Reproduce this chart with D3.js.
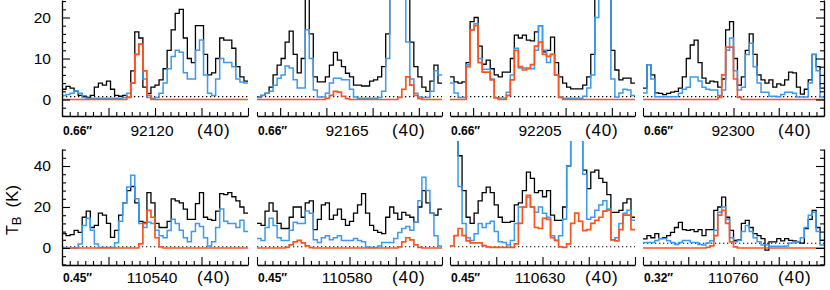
<!DOCTYPE html>
<html>
<head>
<meta charset="utf-8">
<script src="https://cdn.jsdelivr.net/npm/d3@7"></script>
<style>
  body { margin: 0; background: #fff; }
  svg { display: block; }
  text { font-family: "Liberation Sans", Arial, sans-serif; }
</style>
</head>
<body>
<div id="chart"></div>
<script>
// line labels (rest frequency, MHz), beam sizes and the velocity label
const lineLabels = ["92120", "92165", "92205", "92300", "110540", "110580", "110630", "110760"];
const beamLabels = ["0.66″", "0.66″", "0.66″", "0.66″", "0.45″", "0.45″", "0.45″", "0.32″"];
const velLabel = "(40)";
const noiseLevels = [0.7, 0.7, 0.7, 0.7, 0.6, 0.6, 0.6, 2.3];
const yTicksTop = [0, 10, 20];
const yTicksBottom = [0, 20, 40];

// spectra, one value per channel: obs = observed (black), all = full model (blue), mol = this species (orange)
const obs92120 = [2.5,3.2,2.8,2,1,0.8,0.5,1,3,4, 3.5,4.5,2.5,1,0.8,1,0.5,7,16.5,15, 3,1.5,3,3.5,4.8,7.5,12,17,21,22, 15,10,9,18,18,11,6,6.5,10,15, 14.5,14.5,12.5,8,5.5,4.5];
const all92120 = [1,1.2,1.5,2.1,1.5,0.5,0.3,0.3,0.3,0.3, 0.3,0.3,0.3,0.3,0.3,0.5,1.5,4,11,13.5, 5,0.5,0.3,0.5,1.5,4,7.5,10.5,12,11.5, 6.5,5,5,12,14.5,6,1.5,1,5,10, 9,9,8,5,4.3,4];
const mol92120 = [0,0,0,0,0,0,0,0,0,0, 0,0,0,0,0,0,0.5,4,11,13.5, 7,1,0,0,0,0,0,0,0,0, 0,0,0,0,0,0,0,0,0,0, 0,0,0,0,0,0];

const obs92165 = [0.6,1,1.5,3,6,8.4,10,14,16.7,11, 6.5,10,26,16,5.5,4.3,4.3,5.5,8.4,11.5, 9.6,8,6.4,5.5,3.5,3.5,3.3,3.3,4.5,4.8, 5.5,8,16,30,40,40,35,25,14,8, 5.5,3,2,4.5,8.4,4];
const all92165 = [0.5,1,1.5,2,3.5,5.2,6,8.2,7.7,4.8, 2.8,2.8,17,10,2.3,0.6,0.6,1.5,4,5.2, 5.2,4.8,4.8,2.5,0.6,0.3,0.3,0.3,0.3,0.3, 0.5,2,10,30,40,40,30,14,5,1.5, 0.6,0.5,0.5,2,7,6];
const mol92165 = [0,0,0,0,0,0,0,0,0,0, 0,0,0,0,0,0,0,0.3,1,2, 1.8,0.8,0.2,0,0,0,0,0,0,0, 0,0,0,0,0,0.5,2.5,5.5,3.5,1, 0.2,0,0,0,0,0];

const obs92205 = [5.5,4.3,4,4.3,9,19,20,13,8.6,9.6, 7.5,6,5.5,6.7,6.7,10,15.7,15,15.7,14.5, 14.3,16.5,18,11.6,12,15.2,9,5.5,4,3, 2.6,2.6,2.6,3.5,5.5,11,28,40,40,35, 12,7.2,4.8,5.2,5.2,4];
const all92205 = [4,1.6,0.5,0.5,8.5,17,18.5,10,7.4,7.4, 5,0.5,0.4,0.4,1.8,6,12.5,7.7,7.7,7.7, 7.5,12,18,12,9,11,6,0.6,0.3,0.3, 0.3,0.3,0.3,0.8,2.8,6,20,40,40,30, 5,0.6,1.6,2.5,2.3,1];
const mol92205 = [0,0,0,0,8,17,18,9,6.7,6.7, 4.8,0.4,0,0,1,4.8,12,8,7.2,7.5, 8.5,13,14,11,10.5,11,6,0.5,0,0, 0,0,0,0,0,0,0,0,0,0, 0,0,0,0,0,0];

const obs92300 = [2.8,8.5,6,1.6,1.5,1.2,1.5,1.8,2,2.8, 5.5,10,13.3,14.5,9,5.2,4,4.5,4.3,3, 5,17,19,10,3.5,5.5,12,16,11,6, 4.8,4,4.8,3,3.8,3.5,4.8,6.7,6.5,3, 1.3,2.5,4.8,11,8,2.8];
const all92300 = [1.6,8.5,5,0.7,0.7,0.7,0.7,0.7,0.7,1.5, 2.5,3,5.5,5.5,4.5,3,2.5,2.3,2.3,1, 2.3,12,15,7,2.3,3,11,13.7,8,4, 1.8,1.8,0.8,0.8,0.7,1.2,1.8,1.8,1.5,0.6, 0.6,0.6,4,11,7,0.6];
const mol92300 = [0,0,0,0,0,0,0,0,0,0, 0,0,0,0,0,0,0,0,0,0.5, 6,12.8,12.8,5,0.5,0,0,0,0,0, 0,0,0,0,0,0,0,0,0,0, 0,0,0,0,0,0];

const obs110540 = [7,6,6.5,8.6,7.6,15,18,10,11,17, 16,12,5.2,8.6,16,22,28,30,22,13, 12.5,27,22,12,10,10,13,24,23,22, 19,14,14,21.6,27,15,14,13.5,18,26.5, 26,27,25,23,20,17];
const all110540 = [0.3,0,0,0,2,11,14.5,8.6,2,0.3, 0.3,0.3,0.3,2.5,13,22,29.7,35.5,24,12, 10,12.5,12,8.6,6,5,8.5,14,12,8.6, 5,3,8,12,10.5,5,1,3,10,19, 13,12,12,10,13.5,8];
const mol110540 = [0,0,0,0,0,0,0,0,0,0, 0,0,0,0,0,0,0,0,0,2, 12,18.4,15,5,0.5,0,0,0,0,0, 0,0,0,0,0,0,0,0,0,0, 0,0,0,0,0,0];

const obs110580 = [12,11,18,22,18,12,9.5,9.5,15,20, 20,15,22,23,9,14,21,22,14,16, 19,14,11,13,17,21,26.5,17,11,8.6, 7.6,7,15,20,17,14,17.4,16,15,12.5, 20,28,22,17,16,19];
const all110580 = [4.6,3.7,10,14.5,11,5,3.7,3.7,8.6,12.5, 12,12,18,17,4,2.7,5,6,4,5, 6,3.7,3.7,3.7,4.6,3.7,3,0.5,0.3,0.3, 1,2.7,2.7,2.7,4.6,7.6,9.5,10.5,8.6,12.5, 23,34.5,28,17,6,1];
const mol110580 = [0,0,0,0,0,0,0,0.3,1.5,3, 3.7,2.5,1,0.2,0,0,0,0,0,0, 0,0,0,0,0,0,0,0,0,0, 0,0,0,0,0,0.5,3,5,4,1.5, 0.3,0,0,0,0,0];

const obs110630 = [60,60,45,28,15,12,17,23,27,29.7, 27,21,15,12.5,12.5,13,21,22,28,37, 34,27,28,25,28,16,13.5,13.5,20,40, 60,60,60,38,29,37,38,34,32,26, 17.4,17.4,18.4,22,24,15];
const all110630 = [60,60,30,12,5,3.7,7,12,10,12, 13,8,3,2.7,1.5,3.7,12,20,20,24.8, 20,17.4,20,17,15,6,3.7,6,14,40, 60,60,60,36,14,15,18.4,21,23,19, 4,5,12,17,18.4,13.5];
const mol110630 = [1,6,9.5,6,3.5,2.5,2.5,2.5,1.2,0.5, 0.3,0.3,0.3,0.3,0.3,0.3,2,12,20,25.7, 20,10,9.5,14.5,14,5,3.7,0.5,0.3,2, 12,17,13,8.5,9,12,13.5,15,18,18.5, 4,3.5,9,16,16,9];

const obs110760 = [4.4,6,5,7,4.6,5,6,7.6,10,12.5, 9,8.6,9,8,9,6,9,9,18.4,20, 24.8,15,8.6,3.7,4,12,13.5,10,7,6, 4.6,-1,3,3,4.6,3.5,4.6,3.7,3.5,3, 2.4,9.5,14,18.4,10,3.7];
const all110760 = [2.7,2.7,2.7,3.7,4.6,4.6,3.5,2.7,1.7,2.7, 3.7,3.7,2.7,2.7,1.7,1.5,2.4,3.5,8.6,17.4, 20,14,5,3,3.7,8,11,8,5,3, 1.5,1.5,0.8,0.8,0.8,0.8,1,2.4,2.4,3.2, 5,10,16,17.4,8,1.5];
const mol110760 = [0,0,0,0,0,0,0,0,0,0, 0,0,0,0,0,0,0.3,1,6,16, 18.4,12,3,0.5,0,0,0,0,0,0, 0,0,0,0,0,0,0,0,0,0, 0,0,0,0,0,0];

const observed = [obs92120, obs92165, obs92205, obs92300, obs110540, obs110580, obs110630, obs110760];
const fullModel = [all92120, all92165, all92205, all92300, all110540, all110580, all110630, all110760];
const species = [mol92120, mol92165, mol92205, mol92300, mol110540, mol110580, mol110630, mol110760];

// layout
const WIDTH = 830, HEIGHT = 290;
const COLS = [[62, 248], [257, 442], [450, 635], [643, 824]];
const ROWS = [[0, 116], [149, 265]];
const CLIP_TOP = [0, 141];
const LABEL_DROP = [20, 18];
const Y_DOMAINS = [[-4.02, 24.27], [-8.3, 48.3]];
const Y_MINOR_STEP = [2, 4];
const HALF_SPAN = 20; // MHz either side of the label

const BLACK = "#000", BLUE = "#3a9af0", ORANGE = "#fa5420";

const svg = d3.select("#chart").append("svg")
  .attr("width", WIDTH)
  .attr("height", HEIGHT);

lineLabels.forEach((label, p) => {
  const row = Math.floor(p / 4), col = p % 4;
  const [x0, x1] = COLS[col];
  const [y0, y1] = ROWS[row];
  const nChan = observed[p].length;

  const x = d3.scaleLinear().domain([0, nChan]).range([x0, x1]);
  const centre = +label;
  const freq = d3.scaleLinear().domain([centre - HALF_SPAN, centre + HALF_SPAN]).range([x0, x1]);
  const y = d3.scaleLinear().domain(Y_DOMAINS[row]).range([y1, y0]);

  const g = svg.append("g");

  const clipId = "clip" + p;
  svg.append("clipPath").attr("id", clipId)
    .append("rect")
    .attr("x", x0).attr("y", CLIP_TOP[row])
    .attr("width", x1 - x0).attr("height", y1 - CLIP_TOP[row]);

  // dotted noise level
  g.append("line")
    .attr("x1", x0).attr("x2", x1)
    .attr("y1", y(noiseLevels[p])).attr("y2", y(noiseLevels[p]))
    .attr("stroke", "#000")
    .attr("stroke-width", 1.1)
    .attr("stroke-dasharray", "1.3,2.7");

  const step = d3.line()
    .x((d, i) => x(i))
    .y(d => y(d))
    .curve(d3.curveStepAfter);

  const plotted = g.append("g").attr("clip-path", `url(#${clipId})`);
  [[observed[p], BLACK, 1.3], [fullModel[p], BLUE, 1.5], [species[p], ORANGE, 1.7]].forEach(([vals, colour, w]) => {
    const pts = vals.concat([vals[vals.length - 1]]);
    plotted.append("path")
      .attr("d", step(pts))
      .attr("fill", "none")
      .attr("stroke", colour)
      .attr("stroke-width", w)
      .attr("stroke-linejoin", "miter");
  });

  // bottom axis, ticks pointing up
  const lo = centre - HALF_SPAN, hi = centre + HALF_SPAN;
  const majors = d3.range(Math.ceil(lo / 10) * 10, hi + 1e-6, 10);
  const minorStart = Math.ceil(lo / 10) * 10 - 10;
  const minors = d3.range(0, 40).map(k => minorStart + k * 10 / 6)
    .filter(v => v >= lo - 1e-6 && v <= hi + 1e-6 && Math.abs(v / 10 - Math.round(v / 10)) > 1e-6);

  g.append("g")
    .attr("transform", `translate(0,${y1})`)
    .call(d3.axisBottom(freq).tickValues(majors).tickSize(-8).tickSizeOuter(0).tickFormat(""))
    .call(a => a.select(".domain").attr("stroke-width", 1.3));
  g.append("g")
    .attr("transform", `translate(0,${y1})`)
    .call(d3.axisBottom(freq).tickValues(minors).tickSize(-4).tickSizeOuter(0).tickFormat(""))
    .call(a => a.select(".domain").remove());

  // vertical axes only on the outer columns
  const yTicks = row === 0 ? yTicksTop : yTicksBottom;
  const [ya, yb] = Y_DOMAINS[row];
  const yMinors = d3.range(Math.ceil(ya / Y_MINOR_STEP[row]) * Y_MINOR_STEP[row], yb, Y_MINOR_STEP[row])
    .filter(v => !yTicks.includes(v) && v % (row === 0 ? 10 : 20) !== 0);
  if (col === 0 || col === 3) {
    const left = col === 0;
    const ax = left ? d3.axisLeft : d3.axisRight;
    const tx = left ? x0 : x1;
    g.append("g")
      .attr("transform", `translate(${tx},0)`)
      .call(ax(y).tickValues(yTicks).tickSize(-8).tickSizeOuter(0).tickPadding(11)
        .tickFormat(left ? d3.format("d") : ""))
      .call(a => a.select(".domain").attr("stroke-width", 1.3))
      .call(a => a.selectAll("text").attr("font-size", 15.5).attr("fill", "#000"));
    g.append("g")
      .attr("transform", `translate(${tx},0)`)
      .call(ax(y).tickValues(yMinors).tickSize(-4).tickSizeOuter(0).tickFormat(""))
      .call(a => a.select(".domain").remove());
  }
  g.selectAll(".tick line").attr("stroke-width", 1.1);

  // labels under the panel
  const baseY = y1 + LABEL_DROP[row];
  g.append("text")
    .attr("x", x0 + 1).attr("y", baseY - 1.5)
    .attr("font-size", 12).attr("font-weight", "bold")
    .text(beamLabels[p]);
  g.append("text")
    .attr("x", x0 + 90).attr("y", baseY)
    .attr("text-anchor", "middle")
    .attr("font-size", 15.5)
    .text(label);
  g.append("text")
    .attr("x", x0 + 135).attr("y", baseY)
    .attr("font-size", 17)
    .attr("letter-spacing", 0.8)
    .text(velLabel);
});

// y axis title
const title = svg.append("text")
  .attr("transform", "translate(18,235) rotate(-90)")
  .attr("font-size", 16);
title.append("tspan").text("T");
title.append("tspan").attr("dy", 3).attr("font-size", 13).text("B");
title.append("tspan").attr("dy", -3).attr("dx", 9).attr("font-size", 17).text("(K)");
</script>
</body>
</html>
